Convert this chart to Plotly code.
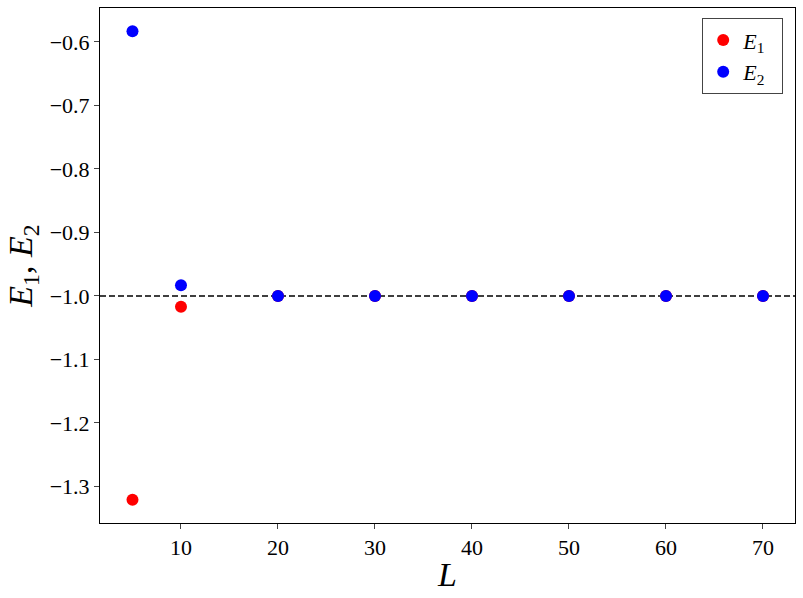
import plotly.graph_objects as go

L_vals = [5, 10, 20, 30, 40, 50, 60, 70]
E1 = [-1.321, -1.017, -1.0, -1.0, -1.0, -1.0, -1.0, -1.0]
E2 = [-0.583, -0.983, -1.0, -1.0, -1.0, -1.0, -1.0, -1.0]
x_ticks = [10, 20, 30, 40, 50, 60, 70]
y_ticks = [-0.6, -0.7, -0.8, -0.9, -1.0, -1.1, -1.2, -1.3]
ref_level = -1.0

font_family = "Liberation Serif, DejaVu Serif, serif"

fig = go.Figure()
fig.add_trace(go.Scatter(x=L_vals, y=E1, mode="markers", name="<i>E</i><sub>1</sub>  ",
                         marker=dict(color="red", size=12)))
fig.add_trace(go.Scatter(x=L_vals, y=E2, mode="markers", name="<i>E</i><sub>2</sub>  ",
                         marker=dict(color="blue", size=12)))
fig.add_hline(y=ref_level, line=dict(color="black", width=1.5, dash="6px,3px"), layer="below")

fig.update_layout(
    width=803, height=598,
    margin=dict(l=100, r=8, t=8, b=75),
    plot_bgcolor="white", paper_bgcolor="white",
    font=dict(family=font_family, color="black", size=22),
    showlegend=True,
    legend=dict(x=0.983, y=0.98, xanchor="right", yanchor="top",
                bordercolor="#444444", borderwidth=1, bgcolor="white",
                font=dict(size=22), itemsizing="constant", tracegroupgap=6),
    xaxis=dict(range=[1.65, 73.3], tickvals=x_ticks, ticks="outside", ticklen=5,
               showline=True, linecolor="black", linewidth=1, mirror=True,
               showgrid=False, zeroline=False, automargin=False,
               title=dict(text="<i>L</i>", font=dict(size=34), standoff=2)),
    yaxis=dict(range=[-1.3575, -0.5465], tickvals=y_ticks, tickformat=".1f",
               ticks="outside", ticklen=5,
               showline=True, linecolor="black", linewidth=1, mirror=True,
               showgrid=False, zeroline=False, automargin=False,
               title=dict(text="<i>E</i><sub>1</sub>, <i>E</i><sub>2</sub>", font=dict(size=34), standoff=6)),
)

fig.write_html("out.html", config={"displayModeBar": False},
               post_script="document.body.style.margin='0';document.body.style.overflow='hidden';")
